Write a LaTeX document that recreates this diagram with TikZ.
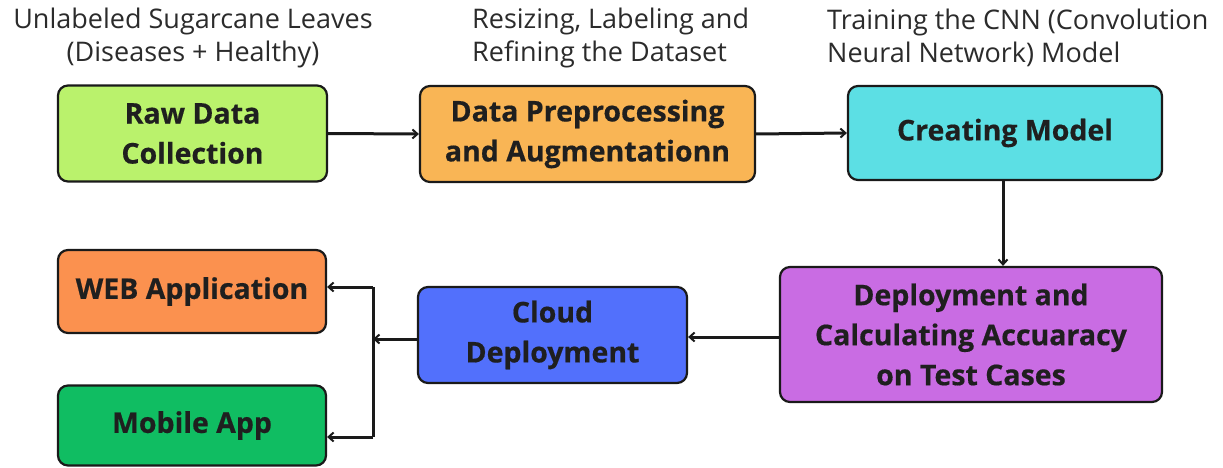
\documentclass[tikz,border=0pt]{standalone}
\usepackage{fontspec}
\setmainfont{Open Sans}
\newfontfamily\boxfont{Open Sans}[BoldFeatures={FakeBold=0.5}]
\usetikzlibrary{arrows.meta}
\definecolor{cRaw}{HTML}{BAF26C}
\definecolor{cPre}{HTML}{F9B555}
\definecolor{cModel}{HTML}{5CDFE4}
\definecolor{cDep}{HTML}{C96CE3}
\definecolor{cCloud}{HTML}{5270FC}
\definecolor{cWeb}{HTML}{FB914F}
\definecolor{cMob}{HTML}{10BD62}
\definecolor{cLine}{HTML}{1A1A1A}
\definecolor{cLab}{HTML}{2B2B2B}
\begin{document}
\begin{tikzpicture}[x=1pt,y=-1pt,
  box/.style={draw=cLine,line width=2.2pt,rounded corners=10pt,align=center,
    inner sep=0pt,text=black!88,font=\boxfont\fontsize{28.5}{40}\selectfont\bfseries},
  lab/.style={inner sep=0pt,text=cLab,font=\fontsize{27}{33}\selectfont},
  arr/.style={draw=cLine,line width=3pt,-{Straight Barb[length=5pt,width=9pt,line width=2pt]}},
  conn/.style={draw=cLine,line width=3pt}]
\useasboundingbox (0,0) rectangle (1223,468);
\node[box,fill=cRaw,minimum width=269pt,minimum height=96pt] (raw) at (192.5,133.5) {Raw Data\\Collection};
\node[box,fill=cPre,minimum width=335pt,minimum height=96pt] (pre) at (587.5,134) {Data Preprocessing\\and Augmentationn};
\node[box,fill=cModel,minimum width=314pt,minimum height=94pt] (model) at (1005,133) {Creating Model};
\node[box,fill=cDep,minimum width=382pt,minimum height=135pt] (dep) at (971,334.5) {Deployment and\\Calculating Accuaracy\\on Test Cases};
\node[box,fill=cCloud,minimum width=269pt,minimum height=96pt] (cloud) at (552.5,335) {Cloud\\Deployment};
\node[box,fill=cWeb,minimum width=268pt,minimum height=83pt] (web) at (192,291.5) {WEB Application};
\node[box,fill=cMob,minimum width=268pt,minimum height=80pt] (mob) at (192,425.5) {Mobile App};

\node[lab,align=center] (l1) at (193,38) {Unlabeled Sugarcane Leaves\\(Diseases + Healthy)};
\node[lab,align=left,anchor=west] (l2) at (472,38) {Resizing, Labeling and\\Refining the Dataset};
\node[lab,align=left,anchor=west] (l3) at (827,38) {Training the CNN (Convolution\\Neural Network) Model};

\coordinate (jm) at (373,339);
\coordinate (jt) at (373,287);
\coordinate (jb) at (373,437);

\draw[arr] (raw.east) -- (pre.west);
\draw[arr] (pre.east) -- (model.west);
\draw[arr] ([xshift=-2pt]model.south) -- ([xshift=-2pt]model.south |- dep.north);
\draw[arr] (dep.west |- 0,337) -- (cloud.east |- 0,337);
\draw[arr] (cloud.west |- jm) -- (jm);
\draw[conn] (jt) -- (jb);
\draw[arr] (jt) -- (jt -| web.east);
\draw[arr] (jb) -- (jb -| mob.east);
\end{tikzpicture}
\end{document}
